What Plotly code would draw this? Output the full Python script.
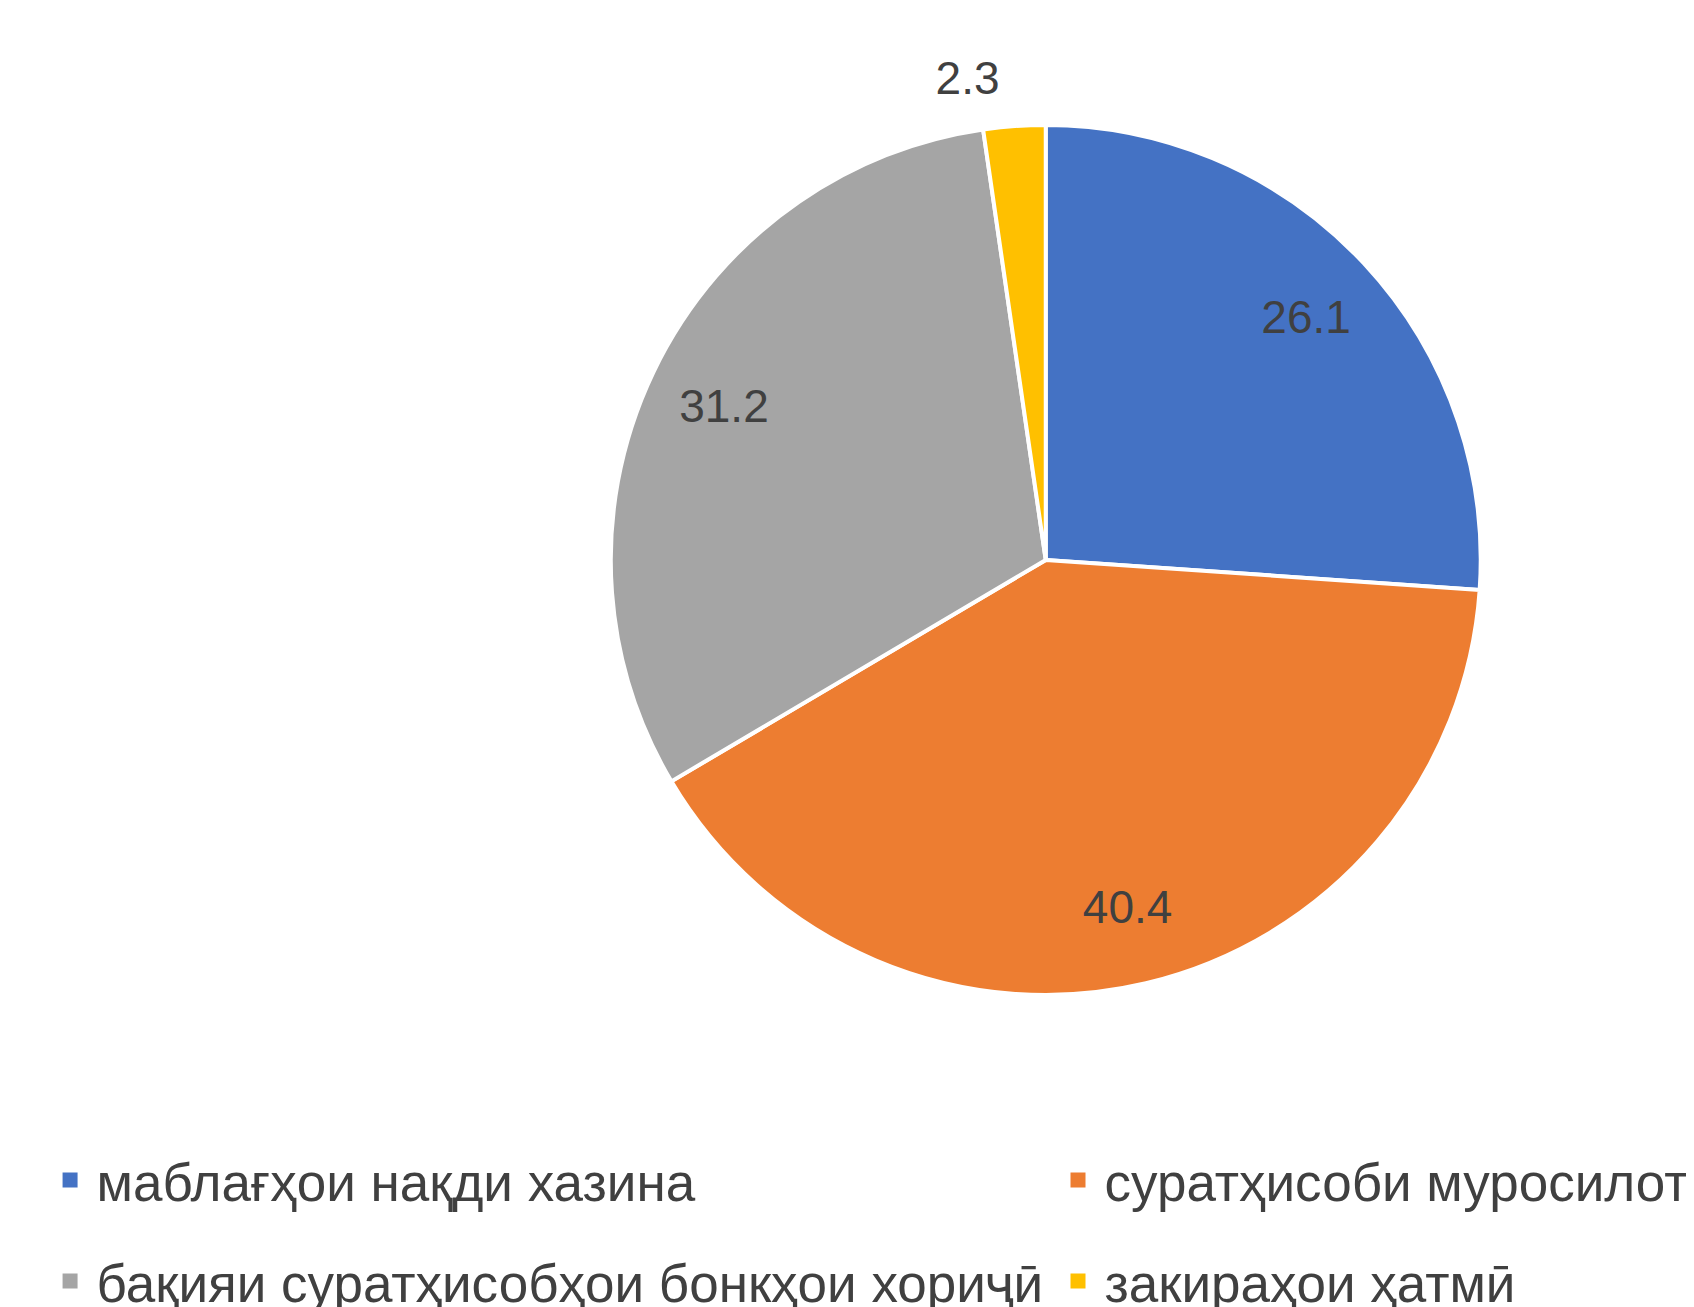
import plotly.graph_objects as go

labels = ['маблағҳои нақди хазина', 'суратҳисоби муросилотӣ',
          'бақияи суратҳисобҳои бонкҳои хориҷӣ', 'закираҳои ҳатмӣ']
values = [26.1, 40.4, 31.2, 2.3]
colors = ['#4472C4', '#ED7D31', '#A5A5A5', '#FFC000']
text_pos = ['inside', 'inside', 'inside', 'outside']

W, H = 1694, 1307
font_name = 'Liberation Sans, Arial'

fig = go.Figure()
# the coloured pie itself
fig.add_trace(go.Pie(
    labels=labels, values=values, sort=False, direction='clockwise', rotation=0,
    marker=dict(colors=colors, line=dict(color='white', width=4)),
    textinfo='none', showlegend=False, hoverinfo='label+value',
    domain=dict(x=[0.3556, 0.8696], y=[0.2449, 0.9105]),
))
# transparent ring on top, only to hold the value labels near the rim
fig.add_trace(go.Pie(
    labels=labels, values=values, sort=False, direction='clockwise', rotation=0,
    hole=0.56, marker=dict(colors=['rgba(0,0,0,0)'] * 4, line=dict(width=0)),
    textinfo='value', textposition=text_pos, insidetextorientation='horizontal',
    textfont=dict(family=font_name, size=46, color='#404040'),
    showlegend=False, hoverinfo='skip',
    domain=dict(x=[0.3427, 0.8822], y=[0.2280, 0.9273]),
))

# legend entries, laid out like the original two-column legend
legend_ids = ['legend', 'legend2', 'legend3', 'legend4']
for name, col, lg in zip(labels, colors, legend_ids):
    fig.add_trace(go.Scatter(
        x=[None], y=[None], mode='markers', name=name, legend=lg,
        marker=dict(symbol='square', size=15, color=col),
    ))

leg_style = dict(font=dict(family=font_name, size=53, color='#404040'),
                 bgcolor='rgba(0,0,0,0)', xref='container', yref='container',
                 xanchor='left', yanchor='middle', itemwidth=43)
fig.update_layout(
    width=W, height=H,
    margin=dict(l=0, r=0, t=0, b=0, autoexpand=False),
    paper_bgcolor='white', plot_bgcolor='white',
    xaxis=dict(visible=False), yaxis=dict(visible=False),
    legend=dict(x=0.021, y=1 - 1172 / H, **leg_style),
    legend2=dict(x=0.616, y=1 - 1172 / H, **leg_style),
    legend3=dict(x=0.021, y=1 - 1273 / H, **leg_style),
    legend4=dict(x=0.616, y=1 - 1273 / H, **leg_style),
)

fig.write_html('out.html')
